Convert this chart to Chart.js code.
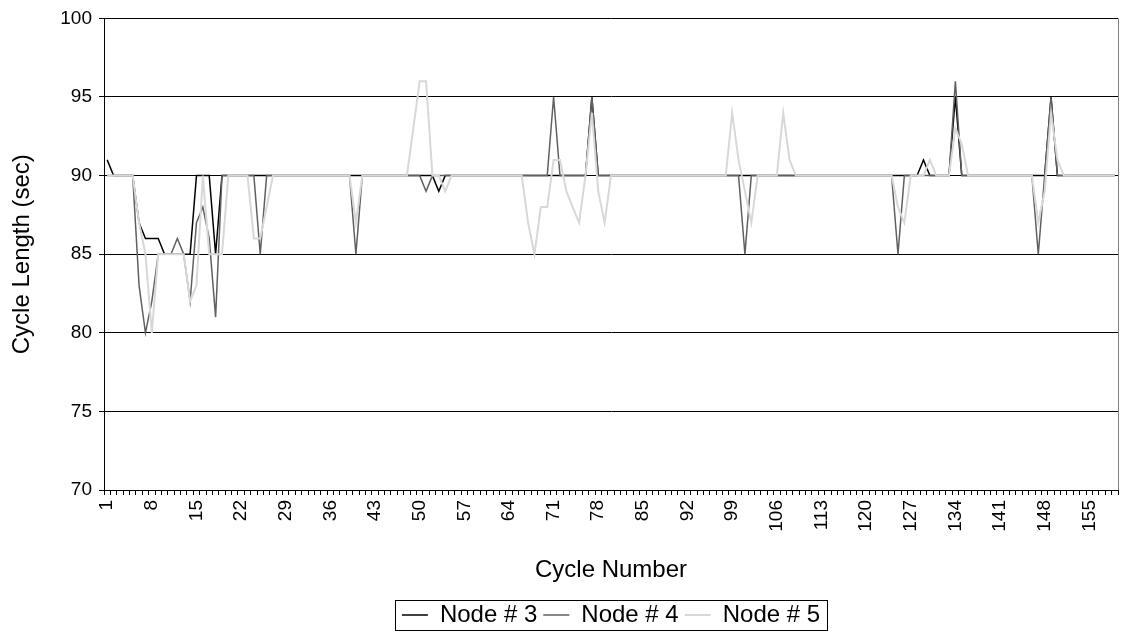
<!DOCTYPE html>
<html>
<head>
<meta charset="utf-8">
<title>Cycle Length</title>
<script src="https://cdn.jsdelivr.net/npm/chart.js@4.4.1/dist/chart.umd.min.js"></script>
<style>
    html, body { margin: 0; padding: 0; background: #fff; }
    #wrap { position: relative; width: 1125px; height: 637px; }
</style>
</head>
<body>
<div id="wrap"><canvas id="cycleChart" width="1125" height="637"></canvas></div>
<script>
// categories: cycle numbers 1..159
const cycles = [];
for (let c = 1; c <= 159; c++) cycles.push(String(c));

const yTicks = [70, 75, 80, 85, 90, 95, 100];

const node3 = [
    91, 90, 90, 90, 90, 87, 86, 86, 86, 85,
    85, 85, 85, 85, 90, 90, 90, 85, 90, 90,
    90, 90, 90, 90, 90, 90, 90, 90, 90, 90,
    90, 90, 90, 90, 90, 90, 90, 90, 90, 90,
    90, 90, 90, 90, 90, 90, 90, 90, 90, 90,
    90, 90, 89, 90, 90, 90, 90, 90, 90, 90,
    90, 90, 90, 90, 90, 90, 90, 90, 90, 90,
    90, 90, 90, 90, 90, 90, 95, 90, 90, 90,
    90, 90, 90, 90, 90, 90, 90, 90, 90, 90,
    90, 90, 90, 90, 90, 90, 90, 90, 90, 90,
    90, 90, 90, 90, 90, 90, 90, 90, 90, 90,
    90, 90, 90, 90, 90, 90, 90, 90, 90, 90,
    90, 90, 90, 90, 90, 90, 90, 90, 91, 90,
    90, 90, 90, 95, 90, 90, 90, 90, 90, 90,
    90, 90, 90, 90, 90, 90, 90, 90, 95, 90,
    90, 90, 90, 90, 90, 90, 90, 90, 90
];

const node4 = [
    90, 90, 90, 90, 90, 83, 80, 82, 85, 85,
    85, 86, 85, 82, 87, 88, 86, 81, 90, 90,
    90, 90, 90, 90, 85, 90, 90, 90, 90, 90,
    90, 90, 90, 90, 90, 90, 90, 90, 90, 85,
    90, 90, 90, 90, 90, 90, 90, 90, 90, 90,
    89, 90, 90, 90, 90, 90, 90, 90, 90, 90,
    90, 90, 90, 90, 90, 90, 90, 90, 90, 90,
    95, 90, 90, 90, 90, 90, 95, 90, 90, 90,
    90, 90, 90, 90, 90, 90, 90, 90, 90, 90,
    90, 90, 90, 90, 90, 90, 90, 90, 90, 90,
    85, 90, 90, 90, 90, 90, 90, 90, 90, 90,
    90, 90, 90, 90, 90, 90, 90, 90, 90, 90,
    90, 90, 90, 90, 85, 90, 90, 90, 90, 90,
    90, 90, 90, 96, 90, 90, 90, 90, 90, 90,
    90, 90, 90, 90, 90, 90, 85, 90, 95, 90,
    90, 90, 90, 90, 90, 90, 90, 90, 90
];

const node5 = [
    90, 90, 90, 90, 90, 87, 85, 80, 85, 85,
    85, 85, 85, 82, 83, 90, 85, 85, 85, 90,
    90, 90, 90, 86, 86, 88, 90, 90, 90, 90,
    90, 90, 90, 90, 90, 90, 90, 90, 90, 87,
    90, 90, 90, 90, 90, 90, 90, 90, 93, 96,
    96, 90, 90, 89, 90, 90, 90, 90, 90, 90,
    90, 90, 90, 90, 90, 90, 87, 85, 88, 88,
    91, 91, 89, 88, 87, 90, 94, 89, 87, 90,
    90, 90, 90, 90, 90, 90, 90, 90, 90, 90,
    90, 90, 90, 90, 90, 90, 90, 90, 94, 91,
    89, 87, 90, 90, 90, 90, 94, 91, 90, 90,
    90, 90, 90, 90, 90, 90, 90, 90, 90, 90,
    90, 90, 90, 90, 88, 87, 90, 90, 90, 91,
    90, 90, 90, 93, 92, 90, 90, 90, 90, 90,
    90, 90, 90, 90, 90, 90, 87, 89, 94, 91,
    90, 90, 90, 90, 90, 90, 90, 90, 90
];

const seriesNames = ['Node # 3', 'Node # 4', 'Node # 5'];
const seriesColors = ['#000000', '#606060', '#d8d8d8'];
const seriesWidths = [1.5, 1.5, 2];

const FAMILY = "'Liberation Sans', Arial, sans-serif";
const TICK_FONT = { family: FAMILY, size: 19 };
const TITLE_FONT = { family: FAMILY, size: 24 };

// border round the legend + gray right edge of the plot area
const frames = {
    id: 'frames',
    afterDraw(chart) {
        const ctx = chart.ctx;
        const area = chart.chartArea;
        ctx.save();
        ctx.strokeStyle = '#808080';
        ctx.lineWidth = 1;
        ctx.beginPath();
        ctx.moveTo(Math.round(area.right) + 0.5, area.top);
        ctx.lineTo(Math.round(area.right) + 0.5, area.bottom);
        ctx.stroke();

        const boxes = chart.legend.legendHitBoxes;
        if (boxes && boxes.length) {
            let l = Infinity, r = -Infinity, t = Infinity, b = -Infinity;
            boxes.forEach(h => {
                l = Math.min(l, h.left); r = Math.max(r, h.left + h.width);
                t = Math.min(t, h.top); b = Math.max(b, h.top + h.height);
            });
            ctx.strokeStyle = '#000';
            ctx.strokeRect(Math.round(l - 7) + 0.5, Math.round(t - 3) + 0.5,
                Math.round(r - l + 14), Math.round(b - t + 6));
        }
        ctx.restore();
    }
};

const makeSet = (i, data) => ({
    label: seriesNames[i],
    data: data,
    borderColor: seriesColors[i],
    backgroundColor: seriesColors[i],
    borderWidth: seriesWidths[i],
    pointRadius: 0,
    tension: 0,
    fill: false,
    order: 2 - i
});

new Chart(document.getElementById('cycleChart').getContext('2d'), {
    type: 'line',
    data: {
        labels: cycles,
        datasets: [makeSet(0, node3), makeSet(1, node4), makeSet(2, node5)]
    },
    options: {
        responsive: false,
        animation: false,
        layout: { padding: { top: 18, right: 7, left: 0, bottom: 0 } },
        plugins: {
            tooltip: { enabled: false },
            legend: {
                position: 'bottom',
                fullSize: false,
                labels: {
                    usePointStyle: true,
                    pointStyle: 'line',
                    pointStyleWidth: 26,
                    color: '#000',
                    font: TITLE_FONT,
                    padding: 6,
                    sort: (a, b) => a.datasetIndex - b.datasetIndex
                }
            }
        },
        scales: {
            x: {
                offset: true,
                grid: { offset: true, drawOnChartArea: false, color: '#000', tickLength: 5 },
                border: { color: '#000' },
                ticks: {
                    autoSkip: false,
                    maxRotation: 90,
                    minRotation: 90,
                    color: '#000',
                    font: TICK_FONT,
                    padding: 5,
                    callback: (v, idx) => (idx % 7 === 0 ? cycles[idx] : '')
                },
                title: { display: true, text: 'Cycle Number', color: '#000', font: TITLE_FONT, padding: { top: 4, bottom: 12 } },
                afterFit: s => { s.height = 107; s.paddingLeft = 0; s.paddingRight = 0; }
            },
            y: {
                min: yTicks[0],
                max: yTicks[yTicks.length - 1],
                afterBuildTicks: s => { s.ticks = yTicks.map(v => ({ value: v })); },
                grid: { color: '#000', tickLength: 5 },
                border: { color: '#000' },
                ticks: { color: '#000', font: TICK_FONT, padding: 7 },
                title: { display: true, text: 'Cycle Length (sec)', color: '#000', font: TITLE_FONT, padding: { top: 8, bottom: 0 } },
                afterFit: s => { s.width = 104; }
            }
        }
    },
    plugins: [frames]
});
</script>
</body>
</html>
